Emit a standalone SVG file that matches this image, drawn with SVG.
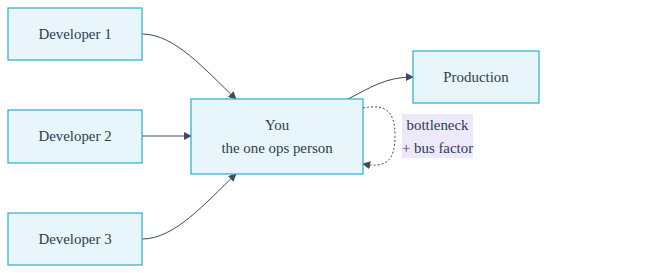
<svg xmlns="http://www.w3.org/2000/svg" width="670" height="273" viewBox="0 0 670 273">
<style>
.node rect{fill:#e8f5fa;stroke:#2aaecb;stroke-width:1.2}
.node text,.lbl text{font-family:"Liberation Serif","Times New Roman",serif;font-size:14.9px;fill:#2c3e50;text-anchor:middle}
.edge{fill:none;stroke:#3d4b5c;stroke-width:1}
.dash{stroke-dasharray:2,2}
</style>
<defs>
<marker id="ah" viewBox="0 0 10 10" refX="9" refY="5" markerWidth="8" markerHeight="8" markerUnits="userSpaceOnUse" orient="auto">
<path d="M0,0 L10,5 L0,10 z" fill="#3d4b5c"/>
</marker>
</defs>
<g id="connectors">
<path class="edge" d="M142,34 C175,34 205,70 236,99" marker-end="url(#ah)"/>
<path class="edge" d="M142,136 L191,136" marker-end="url(#ah)"/>
<path class="edge" d="M142,239 C175,239 205,203 236,174" marker-end="url(#ah)"/>
<path class="edge" d="M348,99 C370,88 385,77 413,77" marker-end="url(#ah)"/>
<path class="edge dash" d="M363,108 C385,104 395,110 395,136 C395,162 385,168 363,164" marker-end="url(#ah)"/>
</g>
<g id="n_dev1" class="node"><rect x="8" y="8" width="134" height="52"/><text x="75" y="39">Developer 1</text></g>
<g id="n_dev2" class="node"><rect x="8" y="110" width="134" height="53"/><text x="75" y="141">Developer 2</text></g>
<g id="n_dev3" class="node"><rect x="8" y="213" width="134" height="52"/><text x="75" y="244">Developer 3</text></g>
<g id="n_you" class="node"><rect x="191" y="99" width="172" height="75"/><text x="277" y="130">You</text><text x="277" y="153">the one ops person</text></g>
<g id="n_prod" class="node"><rect x="413" y="51" width="126" height="52"/><text x="476" y="82">Production</text></g>
<g id="lbl_loop" class="lbl"><rect x="402" y="114" width="71" height="44" fill="#ede8fc"/><text x="437.5" y="130">bottleneck</text><text x="437.5" y="153">+ bus factor</text></g>
</svg>
